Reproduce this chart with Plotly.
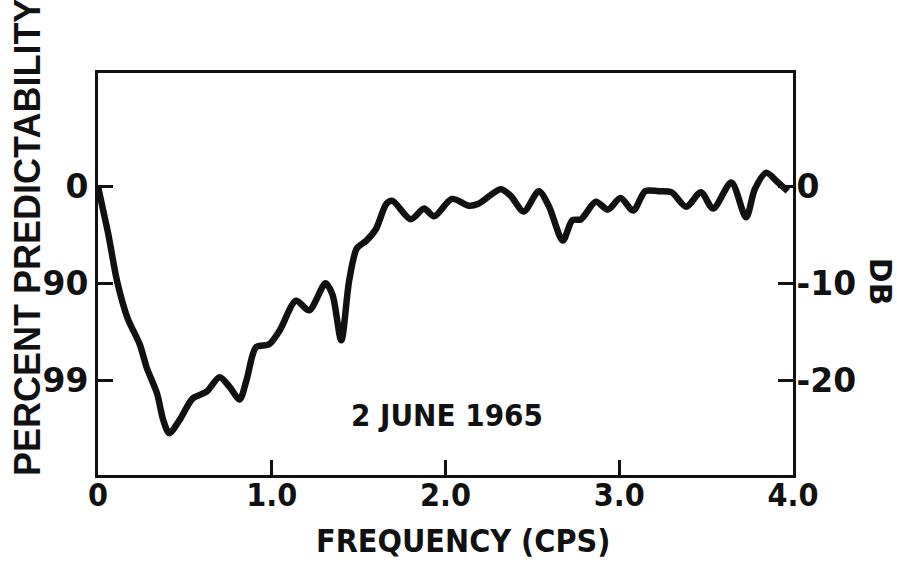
import plotly.graph_objects as go

# Frequency (cps) and response level (dB)
freq = [0.00, 0.03, 0.06, 0.11, 0.17, 0.24, 0.28, 0.34, 0.375, 0.41,
        0.47, 0.545, 0.625, 0.70, 0.757, 0.815, 0.855, 0.91, 0.985, 1.045,
        1.14, 1.215, 1.31, 1.35, 1.40, 1.445, 1.49, 1.545, 1.60, 1.66,
        1.695, 1.80, 1.877, 1.934, 2.037, 2.135, 2.19, 2.318, 2.376, 2.45,
        2.537, 2.594, 2.675, 2.73, 2.78, 2.865, 2.935, 3.007, 3.08, 3.15,
        3.225, 3.30, 3.386, 3.47, 3.54, 3.645, 3.73, 3.78, 3.845, 3.914, 3.97]
db = [0.0, -2.5, -5.0, -9.8, -13.6, -16.3, -18.7, -21.4, -24.1, -25.5,
      -24.1, -21.9, -21.2, -19.7, -20.7, -22.0, -20.0, -16.6, -16.3, -14.9,
      -11.8, -12.8, -10.0, -11.2, -15.9, -9.8, -6.4, -5.6, -4.4, -1.8,
      -1.5, -3.4, -2.3, -3.1, -1.3, -2.0, -1.8, -0.3, -1.0, -2.6,
      -0.5, -2.0, -5.6, -3.5, -3.4, -1.6, -2.4, -1.2, -2.5, -0.5,
      -0.5, -0.6, -2.1, -0.6, -2.3, 0.4, -3.2, -0.3, 1.4, 0.4, -0.5]

x_ticks = [0, 1, 2, 3, 4]
x_tick_text = ["0", "1.0", "2.0", "3.0", "4.0"]
db_ticks = [0, -10, -20]
pct_tick_text = ["0", "90", "99"]
db_tick_text = ["0", "-10", "-20"]

Y_RANGE = [-29.8, 11.7]
INK = "#111111"
COND = "DejaVu Sans Condensed"

fig = go.Figure()
fig.add_trace(go.Scatter(
    x=freq, y=db, mode="lines",
    line=dict(color=INK, width=6.5, shape="spline", smoothing=0.8),
    hoverinfo="skip", showlegend=False,
))
# invisible trace so the right-hand dB axis is rendered
fig.add_trace(go.Scatter(
    x=[0], y=[0], yaxis="y2", mode="markers",
    marker=dict(opacity=0), hoverinfo="skip", showlegend=False,
))

num_font = dict(family="DejaVu Sans", size=33, color=INK, weight="bold")
cond_font = dict(family=COND, size=32, color=INK, weight="bold")

fig.update_layout(
    width=897, height=565,
    margin=dict(l=98, r=104, t=73, b=90),
    paper_bgcolor="white", plot_bgcolor="white",
    xaxis=dict(
        range=[0, 4], tickvals=x_ticks, ticktext=x_tick_text,
        ticks="inside", ticklen=15, tickwidth=3, tickcolor=INK,
        showline=True, linewidth=3, linecolor=INK, mirror=True,
        showgrid=False, zeroline=False,
        tickfont=cond_font, ticklabelstandoff=-10,
    ),
    yaxis=dict(
        range=Y_RANGE, tickvals=db_ticks, ticktext=pct_tick_text,
        ticks="inside", ticklen=15, tickwidth=3, tickcolor=INK,
        showline=True, linewidth=3, linecolor=INK,
        showgrid=False, zeroline=False,
        tickfont=num_font, ticklabelstandoff=0,
    ),
    yaxis2=dict(
        range=Y_RANGE, tickvals=db_ticks, ticktext=db_tick_text,
        overlaying="y", side="right", anchor="x",
        ticks="inside", ticklen=15, tickwidth=3, tickcolor=INK,
        showline=True, linewidth=3, linecolor=INK,
        showgrid=False, zeroline=False,
        tickfont=num_font, ticklabelstandoff=-6,
    ),
    annotations=[
        dict(text="<b>PERCENT PREDICTABILITY</b>", xref="paper", yref="paper",
             x=-0.1005, y=0.59, xanchor="center", yanchor="middle",
             textangle=-90, showarrow=False,
             font=dict(family="Liberation Sans", size=36, color=INK)),
        dict(text="<b>DB</b>", xref="paper", yref="paper",
             x=1.127, y=0.48, xanchor="center", yanchor="middle",
             textangle=90, showarrow=False,
             font=dict(family="DejaVu Sans", size=30, color=INK)),
        dict(text="<b>FREQUENCY (CPS)</b>", xref="paper", yref="paper",
             x=0.525, y=-0.165, xanchor="center", yanchor="middle",
             showarrow=False, font=dict(family=COND, size=32, color=INK)),
        dict(text="<b>2 JUNE 1965</b>", xref="x", yref="y",
             x=2.01, y=-23.6, xanchor="center", yanchor="middle",
             showarrow=False, font=dict(family=COND, size=31, color=INK)),
    ],
)

fig.write_html("out.html")
